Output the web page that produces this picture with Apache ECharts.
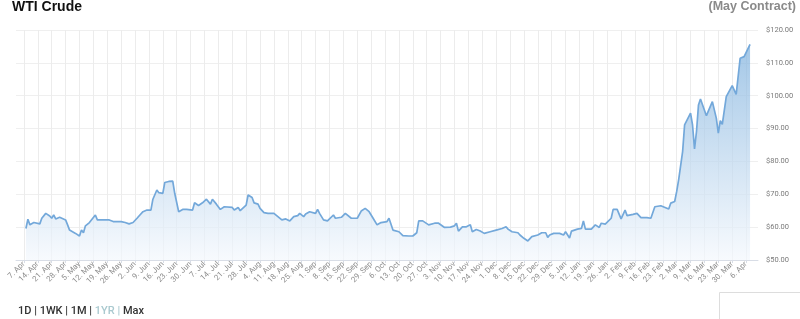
<!DOCTYPE html>
<html>
<head>
<meta charset="utf-8">
<script src="https://cdn.jsdelivr.net/npm/echarts@6/dist/echarts.min.js"></script>
<style>
html,body{margin:0;padding:0;background:#fff;}
#chart{width:800px;height:319px;}
</style>
</head>
<body>
<div id="chart"></div>
<script>
// Days counted from 7 Apr (first weekly tick = day 0)
const dayOffsets = [
  1,2,3,4,5,8,9,11,13,14,
  15,16,18,19,21,22,23,24,26,28,
  29,30,31,33,34,36,37,38,39,43,
  45,49,50,51,52,53,55,57,58,59,
  60,62,64,65,67,68,70,71,73,75,
  76,78,80,82,85,86,88,90,92,93,
  94,95,96,97,99,101,105,106,108,109,
  110,112,113,114,115,116,118,119,121,123,
  126,128,129,130,132,133,134,136,138,139,
  140,141,142,144,145,147,148,149,151,153,
  154,156,157,160,162,163,165,168,170,171,
  172,174,176,178,180,181,183,184,186,187,
  189,191,194,196,198,199,201,202,204,207,
  209,212,215,217,218,219,221,223,225,226,
  228,230,232,233,235,238,239,241,243,244,
  246,249,250,252,254,256,259,261,263,264,
  265,267,270,272,273,275,276,279,281,282,
  283,286,288,290,291,293,294,296,297,299,
  301,303,304,307,309,310,311,314,316,318,
  321,322,325,326,328,329,330,331,332,333,
  334,336,337,338,339,340,341,342,344,345,
  346,347,348,349,350,351,352,354,355,357,
  359,361,363,364,366
];
const prices = [
  59.6,62.4,60.7,61.3,61.4,61.0,62.7,64.2,63.4,62.7,
  63.7,62.5,63.0,62.9,62.2,60.7,59.1,58.8,58.1,57.3,
  59.1,58.3,60.4,61.4,61.9,63.7,62.2,61.7,62.2,62.2,
  61.7,61.7,62.0,61.4,61.7,61.0,61.4,62.7,63.4,63.2,
  64.7,65.2,65.2,68.5,71.3,70.5,70.3,73.6,73.9,74.0,
  70.3,64.7,65.4,65.4,65.2,67.4,66.6,67.4,68.5,68.5,
  67.0,68.5,68.5,67.0,65.4,66.2,66.0,65.2,66.0,65.0,
  65.2,66.7,69.8,70.3,69.0,67.4,67.0,65.7,64.4,64.2,
  64.2,63.2,62.9,62.2,62.5,62.7,61.9,63.2,63.5,64.2,
  64.7,63.2,64.0,64.7,64.2,64.2,65.4,64.2,62.2,61.9,
  62.2,63.7,62.7,63.0,64.2,63.7,62.7,62.7,64.9,65.4,
  65.7,64.7,62.7,60.7,61.4,61.8,61.7,62.7,59.1,59.3,
  58.6,57.4,57.3,57.3,58.3,61.9,61.9,61.7,60.7,61.2,
  61.2,59.9,60.0,60.4,61.2,58.8,60.1,60.1,60.7,58.6,
  59.3,58.8,58.1,58.6,58.6,59.1,58.8,59.6,60.1,59.4,
  58.6,58.3,57.6,56.6,55.8,57.1,57.6,58.3,58.3,56.9,
  57.6,58.1,58.1,57.6,58.6,56.7,58.8,59.4,59.6,61.9,
  59.4,59.4,60.7,59.9,61.2,60.9,60.9,62.7,65.4,65.4,
  62.5,65.2,63.5,63.9,64.2,64.5,62.9,62.9,62.7,66.2,
  66.5,66.2,65.5,67.3,67.8,70.8,74.4,74.9,83.0,91.1,
  91.3,94.7,91.1,83.8,89.1,97.2,99.0,98.4,93.9,95.4,
  95.7,98.2,98.2,93.1,88.6,92.4,91.3,99.7,100.2,103.1,
  100.4,111.4,111.9,112.4,115.6
];
const tickLabels = [
  '7. Apr','14. Apr','21. Apr','28. Apr','5. May','12. May','19. May','26. May',
  '2. Jun','9. Jun','16. Jun','23. Jun','30. Jun','7. Jul','14. Jul','21. Jul','28. Jul',
  '4. Aug','11. Aug','18. Aug','25. Aug','1. Sep','8. Sep','15. Sep','22. Sep','29. Sep',
  '6. Oct','13. Oct','20. Oct','27. Oct','3. Nov','10. Nov','17. Nov','24. Nov',
  '1. Dec','8. Dec','15. Dec','22. Dec','29. Dec','5. Jan','12. Jan','19. Jan','26. Jan',
  '2. Feb','9. Feb','16. Feb','23. Feb','2. Mar','9. Mar','16. Mar','23. Mar','30. Mar','6. Apr'
];
const tickDays = tickLabels.map((_, i) => i * 7);
const titleText = 'WTI Crude';
const contractText = '(May Contract)';
const rangeButtons = ['1D', '1WK', '1M', '1YR', 'Max'];

const seriesData = dayOffsets.map((d, i) => [d, prices[i]]);

const chart = echarts.init(document.getElementById('chart'), null, {renderer: 'canvas'});
const FONT = '"Liberation Sans", Arial, sans-serif';
const UIFONT = 'Roboto, "Liberation Sans", Arial, sans-serif';

const richParts = rangeButtons.map((b, i) => {
  const sel = b === '1YR';
  const sep = i < rangeButtons.length - 1 ? (sel ? '{s2| | }' : '{s| | }') : '';
  return (sel ? '{a|' : '{n|') + b + '}' + sep;
}).join('');

chart.setOption({
  animation: false,
  backgroundColor: '#ffffff',
  grid: {left: 16, right: 42, top: 30, bottom: 59, containLabel: false, outerBoundsMode: 'none'},
  xAxis: {
    type: 'value',
    min: -4,
    max: 370,
    axisLine: {show: true, lineStyle: {color: '#d8dde6', width: 1}},
    axisTick: {show: true, length: 3, lineStyle: {color: '#d8dde6'}, customValues: tickDays},
    splitLine: {show: true, lineStyle: {color: '#ececec', width: 1}},
    axisLabel: {
      customValues: tickDays,
      rotate: 45,
      margin: 3,
      fontSize: 7.8,
      fontFamily: UIFONT,
      color: '#8c8c8c',
      formatter: v => tickLabels[Math.round(v / 7)] || ''
    }
  },
  yAxis: {
    type: 'value',
    position: 'right',
    min: 50,
    max: 120,
    interval: 10,
    axisLine: {show: false},
    axisTick: {show: false},
    splitLine: {show: true, lineStyle: {color: '#efefef', width: 1}},
    axisLabel: {
      margin: 8,
      fontSize: 7.5,
      fontFamily: UIFONT,
      color: '#7a7a7a',
      formatter: v => '$' + v.toFixed(2)
    }
  },
  series: [{
    type: 'line',
    data: seriesData,
    showSymbol: false,
    smooth: false,
    lineStyle: {color: '#73a8da', width: 1.7},
    areaStyle: {
      color: new echarts.graphic.LinearGradient(0, 0, 0, 1, [
        {offset: 0, color: '#7db0dd'},
        {offset: 1, color: '#f4f8fd'}
      ])
    }
  }],
  graphic: [
    {type: 'text', left: 12, top: 0, style: {text: titleText, fontSize: 14, fontWeight: 'bold', fontFamily: FONT, fill: '#111'}},
    {type: 'text', right: 4, top: 0, style: {text: contractText, fontSize: 12.5, fontWeight: 'bold', fontFamily: FONT, fill: '#8a8a8a'}},
    {type: 'text', left: 18, top: 306, style: {
      text: richParts,
      fontFamily: UIFONT,
      rich: {
        n: {fontSize: 11, fontFamily: UIFONT, fill: '#333', fontWeight: 500},
        a: {fontSize: 11, fontFamily: UIFONT, fill: '#a9c9cf', fontWeight: 500},
        s: {fontSize: 11, fontFamily: UIFONT, fill: '#333', fontWeight: 500},
        s2: {fontSize: 11, fontFamily: UIFONT, fill: '#a9c9cf', fontWeight: 500}
      }
    }},
    {type: 'rect', shape: {x: 719.5, y: 292.5, width: 100, height: 40}, style: {fill: 'none', stroke: '#dddddd', lineWidth: 1}}
  ]
});
</script>
</body>
</html>
